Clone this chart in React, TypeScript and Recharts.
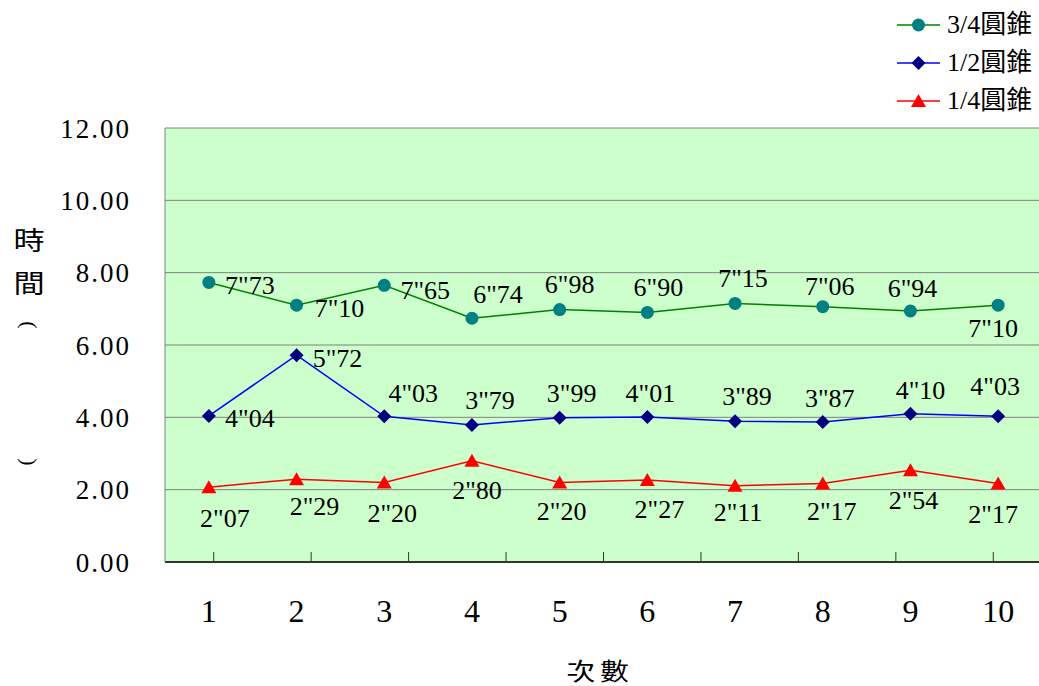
import { LineChart, Line, XAxis, YAxis, CartesianGrid, Legend, LabelList } from 'recharts';

const SERIF = '"Liberation Serif", serif';
const CJK = '"Liberation Serif", "Noto Sans CJK TC", serif';
const CJK_ONLY = '"Noto Sans CJK TC", sans-serif';

// run number and finishing times (seconds) for each cone size
const runs = [1, 2, 3, 4, 5, 6, 7, 8, 9, 10];
const cone34 = [7.73, 7.1, 7.65, 6.74, 6.98, 6.9, 7.15, 7.06, 6.94, 7.1];
const cone12 = [4.04, 5.72, 4.03, 3.79, 3.99, 4.01, 3.89, 3.87, 4.1, 4.03];
const cone14 = [2.07, 2.29, 2.2, 2.8, 2.2, 2.27, 2.11, 2.17, 2.54, 2.17];
const yTicks = [0, 2, 4, 6, 8, 10, 12];
const boundaryTicks = [0.5, 1.5, 2.5, 3.5, 4.5, 5.5, 6.5, 7.5, 8.5, 9.5];
const seriesOrder = ['c34', 'c12', 'c14'];

const data = runs.map((run, i) => ({ run, c34: cone34[i], c12: cone12[i], c14: cone14[i] }));

// where each value label sits relative to its point (text centre dx, dy)
const labelAt34 = [[41, 3], [43, 3], [41, 5], [26, -24], [10, -25], [11, -25], [8, -25], [7, -21], [2, -23], [-5, 23]];
const labelAt12 = [[41, 2], [41, 3], [29, -23], [18, -25], [12, -25], [3, -24], [12, -25], [7, -24], [10, -24], [-3, -30]];
const labelAt14 = [[16, 31], [18, 27], [8, 31], [5, 29], [2, 29], [12, 29], [3, 26], [9, 28], [3, 30], [-5, 31]];

const fmtTime = (v: number) => v.toFixed(2).replace('.', '"');

const marker = (key: string, cx: number, cy: number, k?: string | number) => {
  if (key === 'c34') return <circle key={k} cx={cx} cy={cy} r={6.5} fill="#008080" />;
  if (key === 'c12')
    return <path key={k} d={`M${cx},${cy - 7}L${cx + 7},${cy}L${cx},${cy + 7}L${cx - 7},${cy}Z`} fill="#000080" />;
  return <path key={k} d={`M${cx},${cy - 7}L${cx + 7.5},${cy + 6}L${cx - 7.5},${cy + 6}Z`} fill="#FF0000" />;
};

const dotFor = (key: string) => (p: any) =>
  p.cx == null || p.cy == null ? <g key={`e-${p.index}`} /> : marker(key, p.cx, p.cy, `d-${p.index}`);

const labelFor = (offsets: number[][]) => (p: any) => {
  const x = p.viewBox?.x ?? p.x;
  const y = p.viewBox?.y ?? p.y;
  if (x == null || y == null || p.value == null) return null;
  const [dx, dy] = offsets[p.index] ?? [0, -24];
  return (
    <text x={x + dx} y={y + dy} dy="0.34em" textAnchor="middle" fontFamily={SERIF} fontSize={26} fill="#000">
      {fmtTime(Number(p.value))}
    </text>
  );
};

const LegendBox = ({ payload }: any) => {
  const items = [...(payload || [])].sort(
    (a: any, b: any) => seriesOrder.indexOf(String(a.dataKey)) - seriesOrder.indexOf(String(b.dataKey)),
  );
  return (
    <div style={{ fontFamily: CJK, fontSize: 26, color: '#000' }}>
      {items.map((e: any) => (
        <div key={e.value} style={{ display: 'flex', alignItems: 'center', height: 38, whiteSpace: 'nowrap' }}>
          <svg width={44} height={20} style={{ display: 'block' }}>
            <line x1={0} x2={43} y1={10} y2={10} stroke={e.color} strokeWidth={1.5} />
            {marker(String(e.dataKey), 21.5, 10)}
          </svg>
          <span style={{ marginLeft: 6, lineHeight: '26px' }}>{e.value}</span>
        </div>
      ))}
    </div>
  );
};

// vertical axis title: characters stacked, brackets turned sideways
const yTitle = () => (
  <g fill="#000" textAnchor="middle">
    <g fontFamily={CJK_ONLY} fontSize={26}>
      <text transform="translate(29,250) scale(1.2,1)">時</text>
      <text transform="translate(29,293) scale(1.2,1)">間</text>
    </g>
    <g fontFamily={SERIF} fontSize={22}>
      <text transform="translate(29,325) rotate(90)" dominantBaseline="central">(</text>
      <text transform="translate(29,462) rotate(90)" dominantBaseline="central">)</text>
    </g>
  </g>
);

const xTitle = () => (
  <text
    transform="translate(600,680) scale(1.2,1)"
    textAnchor="middle"
    fontFamily={CJK_ONLY}
    fontSize={24}
    fill="#000"
    style={{ letterSpacing: 4 }}
  >
    次數
  </text>
);

export default function App() {
  return (
    <div style={{ position: 'absolute', left: 0, top: 0, width: 1039, height: 686, overflow: 'hidden', background: '#fff' }}>
      <LineChart width={1060} height={686} data={data} margin={{ top: 128, right: 18, bottom: 0, left: 0 }}>
        <CartesianGrid vertical={false} stroke="#808080" fill="#CCFFCC" fillOpacity={1} />
        <XAxis
          dataKey="run"
          type="number"
          domain={[0.5, 10.5]}
          ticks={runs}
          interval={0}
          height={124}
          tickLine={false}
          tickSize={0}
          tickMargin={37}
          axisLine={{ stroke: '#333', strokeWidth: 2 }}
          tick={{ fontSize: 32, fill: '#000', fontFamily: SERIF }}
          label={{ content: xTitle }}
        />
        <XAxis
          xAxisId="marks"
          type="number"
          domain={[0.5, 10.5]}
          allowDataOverflow
          ticks={boundaryTicks}
          interval={0}
          mirror
          tickSize={10}
          axisLine={false}
          tickLine={{ stroke: '#333', strokeWidth: 1 }}
          tickFormatter={() => ''}
        />
        <YAxis
          type="number"
          domain={[0, 12]}
          ticks={yTicks}
          interval={0}
          width={165}
          tickLine={false}
          tickSize={0}
          tickMargin={34}
          axisLine={{ stroke: '#808080' }}
          tickFormatter={(v: number) => v.toFixed(2)}
          tick={{ fontSize: 27, fill: '#000', fontFamily: SERIF, style: { letterSpacing: 2 } }}
          label={{ content: yTitle }}
        />
        <Legend
          layout="horizontal"
          verticalAlign="middle"
          align="center"
          content={LegendBox}
          wrapperStyle={{ top: 6, left: 897, width: 160 }}
        />
        <Line dataKey="c34" name="3/4圓錐" stroke="#008000" strokeWidth={1.5} dot={dotFor('c34')} activeDot={false} isAnimationActive={false}>
          <LabelList dataKey="c34" content={labelFor(labelAt34)} />
        </Line>
        <Line dataKey="c12" name="1/2圓錐" stroke="#0000FF" strokeWidth={1.5} dot={dotFor('c12')} activeDot={false} isAnimationActive={false}>
          <LabelList dataKey="c12" content={labelFor(labelAt12)} />
        </Line>
        <Line dataKey="c14" name="1/4圓錐" stroke="#FF0000" strokeWidth={1.5} dot={dotFor('c14')} activeDot={false} isAnimationActive={false}>
          <LabelList dataKey="c14" content={labelFor(labelAt14)} />
        </Line>
      </LineChart>
    </div>
  );
}
